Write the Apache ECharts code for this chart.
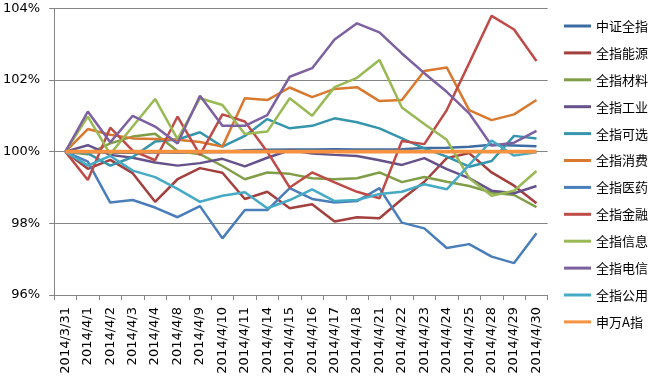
<!DOCTYPE html>
<html><head><meta charset="utf-8">
<script src="https://cdn.jsdelivr.net/npm/echarts@6/dist/echarts.min.js"></script>
<style>html,body{margin:0;padding:0;background:#fff}#c{width:650px;height:383px}</style>
</head><body><div id="c"></div>
<script>
const categories = ['2014/3/31','2014/4/1','2014/4/2','2014/4/3','2014/4/4','2014/4/8','2014/4/9','2014/4/10','2014/4/11','2014/4/14','2014/4/15','2014/4/16','2014/4/17','2014/4/18','2014/4/21','2014/4/22','2014/4/23','2014/4/24','2014/4/25','2014/4/28','2014/4/29','2014/4/30'];
const seriesNames = ['中证全指','全指能源','全指材料','全指工业','全指可选','全指消费','全指医药','全指金融','全指信息','全指电信','全指公用','申万A指'];
const zzqz = [100,100.0,99.97,99.97,99.98,99.97,99.98,99.99,100.04,100.05,100.06,100.06,100.07,100.06,100.06,100.07,100.10,100.11,100.14,100.19,100.17,100.15];
const nengyuan = [100,99.52,99.77,99.40,98.60,99.23,99.54,99.41,98.68,98.88,98.42,98.53,98.05,98.17,98.14,98.67,99.16,99.82,99.96,99.42,99.05,98.56];
const cailiao = [100,99.93,100.23,100.42,100.50,100.02,99.93,99.60,99.23,99.42,99.38,99.26,99.23,99.26,99.42,99.15,99.29,99.16,99.04,98.86,98.79,98.45];
const gongye = [100,100.18,99.91,99.83,99.70,99.61,99.68,99.80,99.59,99.83,100.04,99.95,99.91,99.88,99.76,99.63,99.82,99.51,99.26,98.91,98.84,99.04];
const kexuan = [100,99.95,99.61,99.85,100.28,100.34,100.54,100.14,100.44,100.91,100.65,100.72,100.93,100.82,100.65,100.37,100.09,99.86,99.58,99.74,100.44,100.37];
const xiaofei = [100,100.63,100.47,100.37,100.35,100.33,100.27,100.14,101.49,101.44,101.79,101.52,101.75,101.80,101.41,101.44,102.25,102.35,101.16,100.88,101.04,101.44];
const yiyao = [100,99.72,98.58,98.65,98.44,98.17,98.48,97.58,98.37,98.37,98.98,98.68,98.58,98.62,98.98,98.02,97.86,97.31,97.42,97.07,96.89,97.72];
const jinrong = [100,99.21,100.67,100.03,99.76,100.98,99.91,101.04,100.84,100.00,99.00,99.42,99.14,98.88,98.70,100.30,100.21,101.16,102.47,103.79,103.41,102.53];
const xinxi = [100,100.98,99.93,100.70,101.47,100.35,101.49,101.30,100.49,100.56,101.49,101.00,101.80,102.06,102.56,101.23,100.77,100.33,99.26,98.77,98.91,99.46];
const dianxin = [100,101.12,100.26,101.00,100.70,100.23,101.56,100.72,100.72,101.02,102.09,102.33,103.13,103.58,103.33,102.74,102.19,101.67,101.07,100.17,100.25,100.58];
const gongyong = [100,99.61,99.88,99.47,99.29,98.96,98.60,98.77,98.87,98.42,98.65,98.95,98.62,98.65,98.82,98.88,99.09,98.95,99.63,100.31,99.89,99.98];
const swa = [100,100,100,100,100,100,100,100,100,100,100,100,100,100,100,100,100,100,100,100,100,100];
const yTicks = {min:96, max:104, interval:2};

const allData = [zzqz,nengyuan,cailiao,gongye,kexuan,xiaofei,yiyao,jinrong,xinxi,dianxin,gongyong,swa];
const colors = ['#3D6CA3','#A33F3C','#809E47','#66528A','#3595AC','#D9792F','#4A7EBB','#BE4B48','#98B954','#7D60A0','#46AAC5','#F69240'];
const font = 'DejaVu Sans';
const chart = echarts.init(document.getElementById('c'));
chart.setOption({
  animation:false,
  color: colors,
  grid:{left:52.3, right:102.3, top:8.3, bottom:88, containLabel:false},
  legend:{
    orient:'vertical', left:559, top:14, icon:'rect', itemWidth:27, itemHeight:3, itemGap:12.9,
    textStyle:{fontFamily:'"Noto Sans CJK SC", sans-serif', fontSize:13, lineHeight:14, color:'#000'},
    data: seriesNames
  },
  xAxis:{
    type:'category', data:categories, boundaryGap:true,
    axisLine:{lineStyle:{color:'#868686', width:1}},
    axisTick:{show:true, length:5, alignWithLabel:false, lineStyle:{color:'#868686'}},
    axisLabel:{rotate:90, margin:12, fontFamily:font, fontSize:13, color:'#000', interval:0}
  },
  yAxis:{
    type:'value', min:yTicks.min, max:yTicks.max, interval:yTicks.interval,
    axisLine:{show:true, lineStyle:{color:'#868686', width:1}},
    axisTick:{show:true, length:5, lineStyle:{color:'#868686'}},
    splitLine:{show:true, lineStyle:{color:'#868686', width:1}},
    axisLabel:{formatter: v => v + '%', margin:14, fontFamily:font, fontSize:13, color:'#000'}
  },
  series: seriesNames.map((n,i)=>({
    name:n, type:'line', data: allData[i], symbol:'none', showSymbol:false,
    lineStyle:{width: i===11 ? 3.8 : 2.5, color: colors[i]},
    itemStyle:{color: colors[i]}
  }))
});
</script></body></html>
